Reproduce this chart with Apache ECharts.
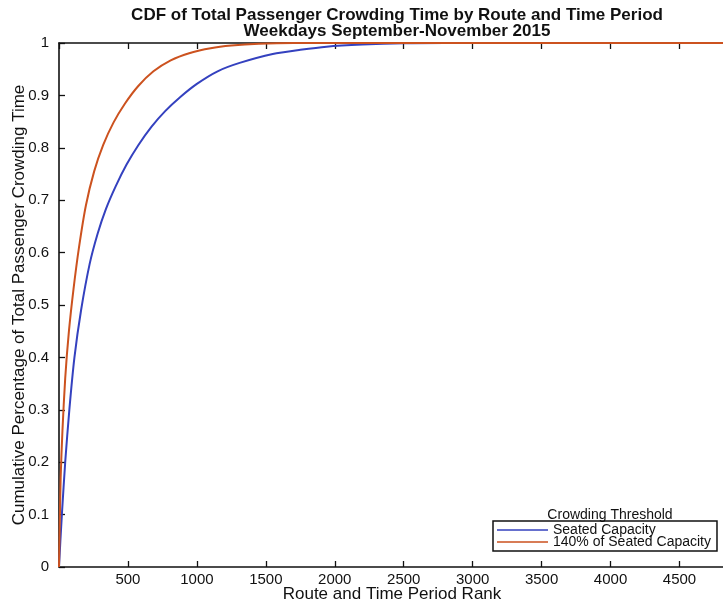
<!DOCTYPE html>
<html>
<head>
<meta charset="utf-8">
<script src="https://cdn.jsdelivr.net/npm/echarts@6/dist/echarts.min.js"></script>
<style>
  html, body { margin: 0; padding: 0; background: #fff; }
  #chart { width: 723px; height: 606px; }
</style>
</head>
<body>
<div id="chart"></div>
<script>
// Route/time-period rank (x) and cumulative share of crowding time (y)
const seatedRank = [0, 10, 22, 45, 75, 112, 160, 222, 280, 340, 410, 490, 575, 670, 770, 880, 1000, 1150, 1310, 1550, 1750, 1940, 2200, 2500, 2800, 4830];
const seatedCdf  = [0, 0.05, 0.105, 0.2, 0.3, 0.4, 0.49, 0.578, 0.636, 0.683, 0.726, 0.768, 0.805, 0.84, 0.87, 0.897, 0.922, 0.946, 0.962, 0.979, 0.987, 0.993, 0.997, 0.9995, 1, 1];
const crowd140Rank = [0, 4, 12, 25, 45, 72, 105, 145, 195, 255, 320, 395, 480, 575, 685, 810, 950, 1100, 1250, 1450, 1700, 4830];
const crowd140Cdf  = [0, 0.06, 0.17, 0.26, 0.36, 0.45, 0.53, 0.61, 0.69, 0.755, 0.805, 0.848, 0.885, 0.918, 0.946, 0.967, 0.981, 0.99, 0.995, 0.9985, 1, 1];

const xTicks = [500, 1000, 1500, 2000, 2500, 3000, 3500, 4000, 4500];
const yTicks = [0, 0.1, 0.2, 0.3, 0.4, 0.5, 0.6, 0.7, 0.8, 0.9, 1];

const seriesNames = ['Seated Capacity', '140% of Seated Capacity'];
const seriesColors = ['#3441bf', '#cc521f'];
const FONT = '"Liberation Sans", Arial, Helvetica, sans-serif';

function pairs(xs, ys) { return xs.map((x, i) => [x, ys[i]]); }

const chart = echarts.init(document.getElementById('chart'), null, { renderer: 'canvas' });

const axisLine = { show: true, lineStyle: { color: '#111', width: 1.6 } };
const axisTick = { show: true, inside: true, length: 6, lineStyle: { color: '#111', width: 1.3 } };
// plain horizontal stroke used as the legend key (tiny corner marks fix the box size)
const lineIcon = 'path://M0,0L0.01,0L0,0.01Z M0,5.2L51,5.2L51,6.8L0,6.8Z M0,12L0.01,12L0,11.99Z';

chart.setOption({
  animation: false,
  backgroundColor: '#fff',
  title: [
    { text: 'CDF of Total Passenger Crowding Time by Route and Time Period', left: 392, top: 2, textAlign: 'center',
      textStyle: { fontFamily: FONT, fontSize: 17, fontWeight: 'bold', color: '#111' } },
    { text: 'Weekdays September-November 2015', left: 392, top: 18, textAlign: 'center',
      textStyle: { fontFamily: FONT, fontSize: 17, fontWeight: 'bold', color: '#111' } },
    { text: 'Crowding Threshold', left: 605, top: 503, textAlign: 'center',
      textStyle: { fontFamily: FONT, fontSize: 14, fontWeight: 'normal', color: '#111' } }
  ],
  grid: { left: 59, top: 43, right: -2, bottom: 39, containLabel: false, outerBoundsMode: 'none' },
  xAxis: [
    {
      type: 'value', min: 0, max: 4830, interval: 500, position: 'bottom',
      name: 'Route and Time Period Rank', nameLocation: 'middle', nameGap: 19, nameMoveOverlap: false,
      nameTextStyle: { fontFamily: FONT, fontSize: 17, color: '#111' },
      axisLine: axisLine, axisTick: axisTick,
      axisLabel: { fontFamily: FONT, fontSize: 15, color: '#111', margin: 5,
        showMinLabel: false, showMaxLabel: false,
        formatter: v => xTicks.includes(v) ? String(v) : '' },
      splitLine: { show: false }
    },
    {
      type: 'value', min: 0, max: 4830, interval: 500, position: 'top',
      axisLine: axisLine, axisTick: axisTick,
      axisLabel: { show: false },
      splitLine: { show: false }
    }
  ],
  yAxis: {
    type: 'value', min: 0, max: 1, interval: 0.1,
    name: 'Cumulative Percentage of Total Passenger Crowding Time', nameLocation: 'middle', nameGap: 31, nameMoveOverlap: false,
    nameTextStyle: { fontFamily: FONT, fontSize: 17, color: '#111' },
    axisLine: axisLine, axisTick: axisTick,
    axisLabel: { fontFamily: FONT, fontSize: 15, color: '#111', margin: 10,
      formatter: v => {
        const t = yTicks.find(k => Math.abs(k - v) < 1e-9);
        return t === undefined ? '' : String(t);
      } },
    splitLine: { show: false }
  },
  legend: {
    orient: 'vertical', left: 493, top: 521,
    padding: [2, 6, 2, 4], itemGap: -2, itemWidth: 51, itemHeight: 12,
    borderColor: '#111', borderWidth: 1.5, backgroundColor: '#fff',
    data: seriesNames.map(n => ({ name: n, icon: lineIcon })),
    textStyle: { fontFamily: FONT, fontSize: 14, color: '#111', lineHeight: 12, padding: [0, 0, 0, 0] }
  },
  series: seriesNames.map((name, i) => ({
    name: name, type: 'line',
    data: i === 0 ? pairs(seatedRank, seatedCdf) : pairs(crowd140Rank, crowd140Cdf),
    smooth: 0.25,
    showSymbol: false, symbol: 'none',
    lineStyle: { color: seriesColors[i], width: 2 },
    itemStyle: { color: seriesColors[i] },
    z: 2 + i
  }))
});
</script>
</body>
</html>
